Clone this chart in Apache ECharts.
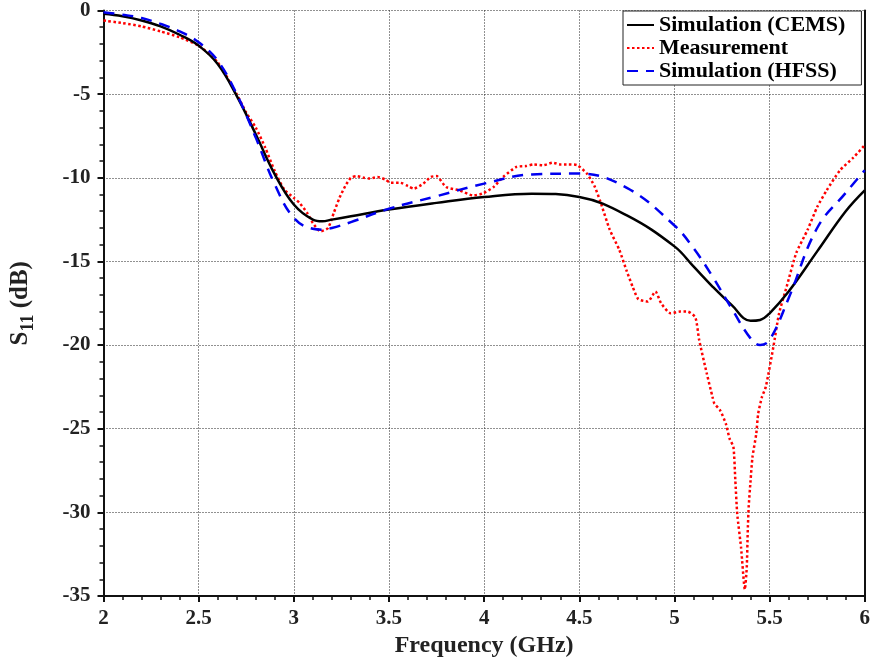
<!DOCTYPE html>
<html>
<head>
<meta charset="utf-8">
<script src="https://cdn.jsdelivr.net/npm/echarts@6/dist/echarts.min.js"></script>
<style>
html, body { margin: 0; padding: 0; background: #fff; }
#main-chart { width: 873px; height: 665px; }
</style>
</head>
<body>
<div id="main-chart"></div>
<script>
// 仿真频点 (GHz)
var simFreq = [2.0, 2.1, 2.2, 2.3, 2.4, 2.5, 2.6, 2.7, 2.8, 2.9, 3.0, 3.1, 3.15, 3.2, 3.3, 3.5, 3.75, 4.0, 4.25, 4.5,
	4.75, 5.0, 5.1, 5.2, 5.3, 5.4, 5.45, 5.5, 5.6, 5.75, 5.9, 6.0];
// Simulation (CEMS)
var cemsS11 = [-0.2, -0.35, -0.6, -0.95, -1.45, -2.1, -3.2, -5.1, -7.4, -9.8, -11.6, -12.5, -12.6, -12.5, -12.3, -11.9, -11.5, -11.15, -10.95, -11.15,
	-12.25, -14.1, -15.3, -16.5, -17.6, -18.55, -18.5, -18.1, -16.8, -14.4, -12.0, -10.75];
// Simulation (HFSS)
var hfssS11 = [-0.1, -0.25, -0.45, -0.8, -1.25, -1.9, -3.0, -5.0, -7.6, -10.4, -12.4, -13.05, -13.1, -13.0, -12.65, -11.85, -11.1, -10.35, -9.8, -9.75,
	-10.6, -12.85, -14.2, -15.9, -17.8, -19.6, -20.0, -19.7, -17.2, -13.0, -10.9, -9.55];
// 实测频点 (GHz)
var measFreq = [2.0, 2.1, 2.2, 2.3, 2.4, 2.5, 2.6, 2.7, 2.75, 2.8, 2.85, 2.9, 2.95, 3.0, 3.03, 3.07, 3.1, 3.14, 3.18, 3.21,
	3.24, 3.27, 3.3, 3.33, 3.37, 3.4, 3.44, 3.48, 3.51, 3.56, 3.6, 3.63, 3.68, 3.72, 3.75, 3.8, 3.87, 3.94, 3.99, 4.05,
	4.1, 4.17, 4.22, 4.26, 4.31, 4.36, 4.4, 4.44, 4.49, 4.54, 4.58, 4.61, 4.66, 4.71, 4.75, 4.78, 4.81, 4.86, 4.9, 4.93,
	4.98, 5.03, 5.07, 5.11, 5.13, 5.17, 5.2, 5.21, 5.24, 5.27, 5.29, 5.31, 5.32, 5.33, 5.35, 5.37, 5.38, 5.385, 5.39, 5.4,
	5.41, 5.43, 5.44, 5.46, 5.48, 5.52, 5.55, 5.59, 5.64, 5.7, 5.75, 5.8, 5.87, 5.94, 6.0];
// Measurement
var measS11 = [-0.6, -0.75, -0.95, -1.25, -1.6, -2.1, -3.1, -5.0, -6.1, -7.0, -8.2, -9.6, -10.7, -11.2, -11.5, -12.1, -12.7, -13.2, -13.0, -12.1,
	-11.2, -10.5, -10.0, -9.9, -10.0, -10.05, -9.95, -10.1, -10.3, -10.3, -10.5, -10.65, -10.35, -9.95, -9.9, -10.55, -10.75, -11.05, -10.95, -10.55,
	-9.95, -9.35, -9.3, -9.2, -9.25, -9.1, -9.2, -9.2, -9.25, -9.75, -10.5, -11.4, -13.1, -14.3, -15.6, -16.5, -17.25, -17.4, -16.8, -17.5,
	-18.1, -18.0, -18.0, -18.35, -19.7, -21.7, -23.1, -23.5, -23.9, -24.7, -25.6, -26.1, -28.1, -30.1, -32.1, -34.6, -33.3, -31.2, -29.7, -28.1,
	-26.7, -25.3, -24.1, -23.1, -22.5, -20.1, -18.1, -16.5, -14.5, -13.1, -11.75, -10.75, -9.55, -8.8, -8.05];

function pairs(xs, ys) {
	var out = [];
	for (var i = 0; i < xs.length; i++) {
		out.push([xs[i], ys[i]]);
	}
	return out;
}

var serifFont = '"Liberation Serif", "DejaVu Serif", serif';
// 网格线: 黑色点线
var gridLine = { show: true, lineStyle: { color: '#222', type: [1, 2], width: 1 } };

var myChart = echarts.init(document.getElementById('main-chart'));

var option = {
	backgroundColor: '#fff',
	animation: false,
	grid: {
		left: 103,
		right: 8,
		top: 10,
		bottom: 69
	},
	legend: {
		orient: 'vertical',
		left: 623,
		top: 11,
		backgroundColor: '#fff',
		borderColor: '#222',
		borderWidth: 1,
		borderRadius: 0,
		padding: [3, 16, 3, 3],
		itemGap: 1,
		itemWidth: 27,
		itemHeight: 14,
		itemStyle: { opacity: 0 },
		textStyle: {
			fontFamily: serifFont,
			fontWeight: 'bold',
			fontSize: 22,
			color: '#000'
		},
		data: ['Simulation (CEMS)', 'Measurement', 'Simulation (HFSS)']
	},
	xAxis: {
		type: 'value',
		min: 2,
		max: 6,
		interval: 0.5,
		name: 'Frequency (GHz)',
		nameLocation: 'middle',
		nameGap: 38,
		nameTextStyle: {
			fontFamily: serifFont,
			fontWeight: 'bold',
			fontSize: 24,
			color: '#222'
		},
		axisLine: { onZero: false, lineStyle: { color: '#111', width: 2 } },
		axisTick: { show: true, length: 6, lineStyle: { color: '#111', width: 2 } },
		minorTick: { show: true, splitNumber: 5, length: 4, lineStyle: { color: '#111', width: 1.5 } },
		axisLabel: {
			margin: 12,
			fontFamily: serifFont,
			fontWeight: 'bold',
			fontSize: 21,
			color: '#222'
		},
		splitLine: gridLine
	},
	yAxis: [{
		type: 'value',
		min: -35,
		max: 0,
		interval: 5,
		name: '{a|S}{b|11}{a| (dB)}',
		nameLocation: 'middle',
		nameRotate: 90,
		nameGap: 66,
		nameTextStyle: {
			fontFamily: serifFont,
			fontWeight: 'bold',
			color: '#222',
			rich: {
				a: { fontFamily: serifFont, fontWeight: 'bold', fontSize: 25, color: '#222', lineHeight: 34, verticalAlign: 'middle' },
				b: { fontFamily: serifFont, fontWeight: 'bold', fontSize: 18, color: '#222', verticalAlign: 'bottom' }
			}
		},
		axisLine: { show: true, onZero: false, lineStyle: { color: '#111', width: 2 } },
		axisTick: { show: true, length: 6, lineStyle: { color: '#111', width: 2 } },
		minorTick: { show: true, splitNumber: 5, length: 4, lineStyle: { color: '#111', width: 1.5 } },
		axisLabel: {
			margin: 13,
			fontFamily: serifFont,
			fontWeight: 'bold',
			fontSize: 21,
			color: '#222'
		},
		splitLine: gridLine
	}, {
		// 右侧边框
		type: 'value',
		position: 'right',
		min: -35,
		max: 0,
		interval: 5,
		axisLine: { show: true, onZero: false, lineStyle: { color: '#111', width: 2 } },
		axisTick: { show: false },
		axisLabel: { show: false },
		splitLine: { show: false }
	}],
	series: [{
		name: 'Simulation (CEMS)',
		type: 'line',
		smooth: 0.4,
		symbol: 'none',
		lineStyle: { color: '#000', width: 2.5, type: 'solid' },
		itemStyle: { color: '#000' },
		data: pairs(simFreq, cemsS11),
		z: 3
	}, {
		name: 'Measurement',
		type: 'line',
		smooth: 0.2,
		symbol: 'none',
		lineStyle: { color: '#f00', width: 2.5, type: [2.5, 2.5] },
		itemStyle: { color: '#f00' },
		data: pairs(measFreq, measS11),
		z: 2
	}, {
		name: 'Simulation (HFSS)',
		type: 'line',
		smooth: 0.4,
		symbol: 'none',
		lineStyle: { color: '#0000f0', width: 2.5, type: [11, 8] },
		itemStyle: { color: '#0000f0' },
		data: pairs(simFreq, hfssS11),
		z: 4
	}]
};

myChart.setOption(option);
</script>
</body>
</html>
